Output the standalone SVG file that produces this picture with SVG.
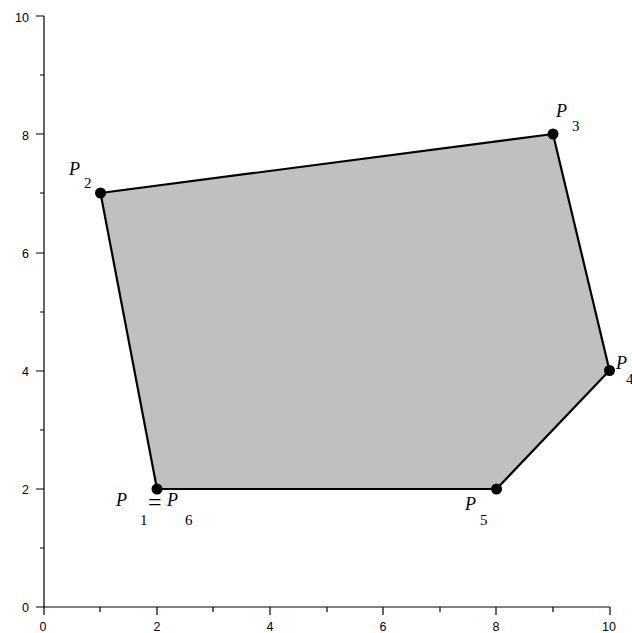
<svg xmlns="http://www.w3.org/2000/svg" width="632" height="633" viewBox="0 0 632 633">
<style>
.ax{stroke:#000;stroke-width:1.2;fill:none}
.tk{font-family:"Liberation Sans",Arial,sans-serif;font-size:12.5px;fill:#000}
.pl{font-family:"Liberation Serif","Times New Roman",serif;font-style:italic;font-size:18px;fill:#000}
.sb{font-family:"Liberation Serif","Times New Roman",serif;font-size:15px;fill:#000}
.eq{font-family:"Liberation Serif","Times New Roman",serif;font-size:24px;fill:#000}
.dot{fill:#000}
</style>
<rect width="632" height="633" fill="#fff"/>
<g id="axes">
<path class="ax" d="M44,16 V607 H610"/>
<path class="ax" d="M36,16H44 M40,75H44 M36,134H44 M40,193H44 M36,253H44 M40,312H44 M36,371H44 M40,430H44 M36,489H44 M40,548H44 M36,607H44"/>
<path class="ax" d="M44,607V615 M100,607V612 M157,607V615 M213,607V612 M270,607V615 M327,607V612 M383,607V615 M440,607V612 M496,607V615 M553,607V612 M610,607V615"/>
<g class="tk" text-anchor="end">
<text x="29" y="22">10</text>
<text x="29" y="140">8</text>
<text x="29" y="258">6</text>
<text x="29" y="376">4</text>
<text x="29" y="494">2</text>
<text x="29" y="612">0</text>
</g>
<g class="tk" text-anchor="middle">
<text x="43" y="631">0</text>
<text x="157" y="631">2</text>
<text x="270" y="631">4</text>
<text x="383" y="631">6</text>
<text x="496" y="631">8</text>
<text x="609" y="631">10</text>
</g>
</g>
<g id="polygon">
<polygon points="157,489 100.5,193 553,134 609.5,370.5 496.5,489" fill="#c0c0c0" stroke="#000" stroke-width="2.2" stroke-linejoin="round"/>
</g>
<g id="P1">
<circle class="dot" cx="157" cy="489" r="5.5"/>
<text class="pl" x="116" y="506">P</text><text class="sb" x="140" y="525">1</text>
<text class="eq" x="148" y="510">=</text>
<text class="pl" x="167" y="506">P</text><text class="sb" x="185" y="525">6</text>
</g>
<g id="P2">
<circle class="dot" cx="100.5" cy="193" r="5.5"/>
<text class="pl" x="69" y="175">P</text><text class="sb" x="84" y="188">2</text>
</g>
<g id="P3">
<circle class="dot" cx="553" cy="134" r="5.5"/>
<text class="pl" x="556" y="117">P</text><text class="sb" x="572" y="131">3</text>
</g>
<g id="P4">
<circle class="dot" cx="609.5" cy="370.5" r="5.5"/>
<text class="pl" x="616" y="369">P</text><text class="sb" x="626" y="384">4</text>
</g>
<g id="P5">
<circle class="dot" cx="496.5" cy="489" r="5.5"/>
<text class="pl" x="465" y="510">P</text><text class="sb" x="480" y="525">5</text>
</g>
</svg>
